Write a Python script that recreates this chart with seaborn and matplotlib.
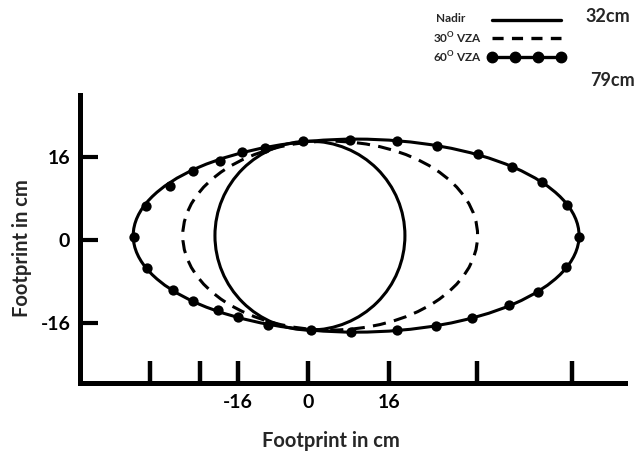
import matplotlib
matplotlib.use("Agg")
import matplotlib.pyplot as plt
from matplotlib.patches import Ellipse
from matplotlib.lines import Line2D
import seaborn as sns

# ---- data (cm, as drawn) ----
series_names = ["Nadir", "30$^{\\mathrm{O}}$ VZA", "60$^{\\mathrm{O}}$ VZA"]
centre_x = [0.4, 4.3, 9.3]
centre_y = [0.8, 0.8, 0.8]
outline_width = [36.6, 56.8, 85.9]
outline_height = [36.4, 36.4, 37.2]

# dots drawn along the 60 deg VZA outline
m60_x = [-33.5, -31.2, -26.6, -22.2, -17.0, -12.7, -8.3, -1.0, 8.1, 17.1, 24.9,
         32.8, 39.3, 45.1, 49.9, 52.2, 49.7, 44.3, 38.7, 31.6, 24.7, 17.1, 8.3,
         0.6, -7.7, -13.5, -17.3, -22.2, -26.0, -31.0]
m60_y = [0.6, 6.6, 10.4, 13.3, 15.2, 17.0, 17.7, 19.1, 19.3, 19.1, 18.1,
         16.6, 14.1, 11.2, 6.7, 0.6, -5.2, -10.0, -12.5, -15.0, -16.6, -17.3, -17.7,
         -17.3, -16.4, -14.8, -13.5, -11.8, -9.6, -5.4]

xtick_pos = [-30.4, -20.8, -13.5, 0, 15.6, 32.6, 50.9]
xtick_labels = ["", "", "-16", "0", "16", "", ""]
ytick_pos = [16, 0, -16]
ytick_labels = ["16", "0", "-16"]
side_labels = ["32cm", "79cm"]
axis_label = "Footprint in cm"

# ---- style ----
sns.set_style("white")
plt.rcParams["font.family"] = ["Lato", "DejaVu Sans"]
plt.rcParams["font.weight"] = "bold"
plt.rcParams["mathtext.fontset"] = "custom"
plt.rcParams["mathtext.rm"] = "Lato:bold"
plt.rcParams["mathtext.bf"] = "Lato:bold"
plt.rcParams["lines.scale_dashes"] = False

fig = plt.figure(figsize=(6.39, 4.51), dpi=100)
ax = fig.add_axes([80 / 639, 68 / 451, 545 / 639, 288 / 451])

styles = [dict(ls="-", lw=2.2), dict(ls=(0, (9.5, 6)), lw=2.2), dict(ls="-", lw=2.2)]
for cx, cy, w, h, st in zip(centre_x, centre_y, outline_width, outline_height, styles):
    ax.add_patch(Ellipse((cx, cy), w, h, fill=False, color="black", zorder=3,
                         linestyle=st["ls"], linewidth=st["lw"]))

sns.scatterplot(x=m60_x, y=m60_y, ax=ax, s=55, color="black",
                edgecolor="black", linewidth=0, zorder=5, legend=False)

ax.set_xlim(-43.9, 61.1)
ax.set_ylim(-27.6, 27.9)

for side in ["top", "right"]:
    ax.spines[side].set_visible(False)
for side in ["left", "bottom"]:
    ax.spines[side].set_linewidth(3.6)
    ax.spines[side].set_color("black")
    ax.spines[side].set_capstyle("projecting")

ax.set_xticks(xtick_pos, xtick_labels)
ax.set_yticks(ytick_pos, ytick_labels)
ax.tick_params(axis="x", direction="in", length=16, width=3.2, pad=8,
               labelsize=14, colors="black", bottom=True)
ax.tick_params(axis="y", direction="in", length=13, width=3.0, pad=7,
               labelsize=14, colors="black", left=True)
for lab in ax.get_xticklabels() + ax.get_yticklabels():
    lab.set_fontweight("bold")

ax.set_xlabel(axis_label, fontsize=14.5, fontweight="bold", va="center")
ax.set_ylabel(axis_label, fontsize=14.5, fontweight="bold", va="center")
ax.xaxis.set_label_coords(0.4606, -0.201)
ax.yaxis.set_label_coords(-0.106, 0.469)

# legend keys (labels written separately, left aligned as in the source)
handles = [
    Line2D([], [], color="black", lw=2.4, ls="-"),
    Line2D([], [], color="black", lw=2.4, ls=(0, (8, 6))),
    Line2D([], [], color="black", lw=2.4, ls="-", marker="o", markersize=7.5),
]
fig.legend(handles, ["", "", ""], loc="upper left",
           bbox_to_anchor=(489 / 639, 1 - 15 / 451),
           frameon=False, numpoints=4, handlelength=6.8, handletextpad=0,
           labelspacing=0.65, borderpad=0, borderaxespad=0,
           prop={"family": "Lato", "weight": "bold", "size": 8})
label_x = [436, 433, 433]
label_y = [19, 38, 57]
for name, lx, ly in zip(series_names, label_x, label_y):
    fig.text(lx / 639, 1 - ly / 451, name, ha="left", va="center",
             fontsize=8.5, fontweight="bold")

fig.text(585 / 639, 1 - 16 / 451, side_labels[0], ha="left", va="center",
         fontsize=13, fontweight="bold")
fig.text(590 / 639, 1 - 81 / 451, side_labels[1], ha="left", va="center",
         fontsize=13, fontweight="bold")

fig.savefig("out.png", dpi=100)
